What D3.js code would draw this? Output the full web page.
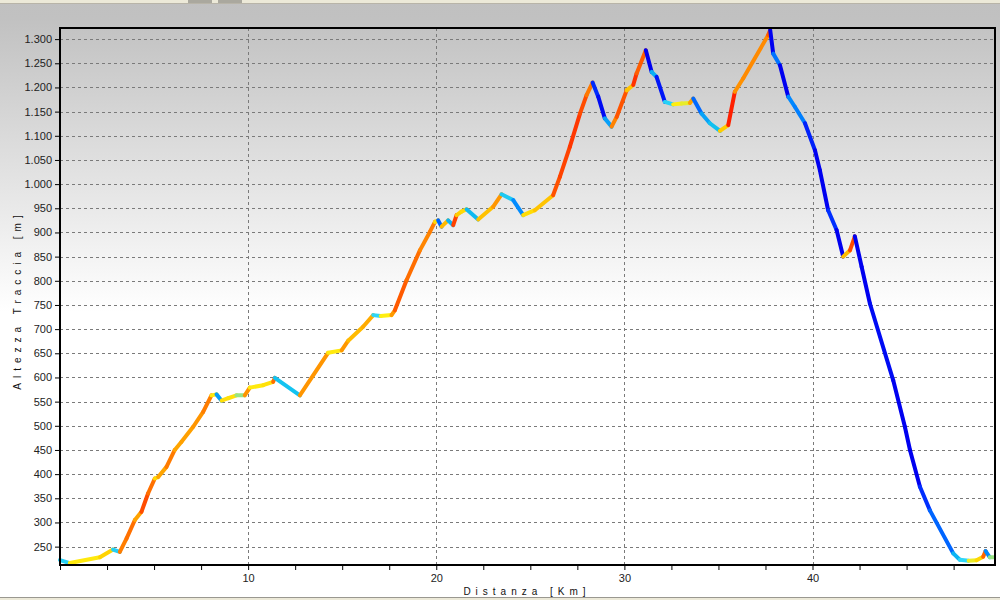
<!DOCTYPE html>
<html>
<head>
<meta charset="UTF-8">
<title>Altezza Traccia</title>
<style>
  html, body { margin: 0; padding: 0; background: #fff; }
  svg { display: block; }
  .tick text { font-family: "Liberation Sans", Arial, sans-serif; font-size: 11px; fill: #222; }
  .tick line { stroke: #000; }
  .axis-label { font-family: "Liberation Sans", Arial, sans-serif; font-size: 10px; fill: #111; letter-spacing: 5px; }
</style>
</head>
<body>
<svg id="chart"></svg>
<script src="https://d3js.org/d3.v7.min.js"></script>
<script>
// distanza (km) e altezza (m)
var distanza = [0.0, 0.52, 2.12, 2.82, 3.18, 3.54, 3.98, 4.33, 4.68, 5.04, 5.22, 5.66, 6.10, 6.46, 7.08, 7.61,
  8.05, 8.32, 8.59, 8.94, 9.38, 9.82, 10.09, 10.80, 11.33, 11.42, 12.75, 14.25, 14.97, 15.32, 16.11, 16.65,
  17.05, 17.62, 17.80, 18.42, 19.13, 19.66, 19.93, 20.10, 20.28, 20.63, 20.90, 21.08, 21.34, 21.61, 22.23, 23.02,
  23.47, 24.09, 24.62, 25.24, 26.21, 26.57, 27.10, 27.64, 27.99, 28.31, 28.61, 28.96, 29.32, 29.59, 30.12,
  30.47, 30.65, 31.14, 31.45, 31.71, 32.15, 32.59, 33.05, 33.48, 33.66, 34.10, 34.54, 35.08, 35.52, 35.87,
  36.32, 37.64, 37.75, 37.91, 38.27, 38.71, 39.06, 39.60, 40.13, 40.39, 40.83, 41.28, 41.63, 41.99, 42.25,
  42.61, 43.05, 44.29, 44.91, 45.18, 45.71, 46.24, 47.48, 47.83, 48.30, 48.72, 49.07, 49.20, 49.42, 49.62];
var altezza = [222, 216, 228, 244, 239, 267, 305, 322, 360, 391, 394, 415, 450, 467, 498, 529,
  563, 565, 552, 557, 563, 563, 579, 584, 591, 599, 563, 651, 656, 676, 705, 729,
  727, 729, 739, 801, 863, 901, 922, 925, 912, 925, 915, 936, 943, 948, 927, 953,
  979, 967, 936, 946, 977, 1015, 1077, 1146, 1184, 1210, 1181, 1136, 1119, 1139, 1194,
  1205, 1229, 1277, 1232, 1222, 1170, 1165, 1167, 1168, 1177, 1146, 1126, 1110, 1122, 1191,
  1219, 1308, 1319, 1270, 1246, 1181, 1160, 1126, 1070, 1029, 946, 905, 850, 863, 892,
  829, 753, 594, 498, 450, 374, 325, 236, 223, 221, 222, 229, 241, 228, 228];

// etichette degli assi
var yTicks = [250, 300, 350, 400, 450, 500, 550, 600, 650, 700, 750, 800, 850, 900, 950,
  1000, 1050, 1100, 1150, 1200, 1250, 1300];
var xLabels = [10, 20, 30, 40];
var xMinor = [0, 2.5, 5, 7.5, 10, 12.5, 15, 17.5, 20, 22.5, 25, 27.5, 30, 32.5, 35, 37.5, 40, 42.5, 45, 47.5];

var W = 1000, H = 600;
var svg = d3.select("#chart").attr("width", W).attr("height", H);

// sfondo sfumato grigio -> bianco
var defs = svg.append("defs");
var grad = defs.append("linearGradient").attr("id", "bg")
  .attr("x1", 0).attr("y1", 0).attr("x2", 0).attr("y2", 1);
grad.append("stop").attr("offset", "0%").attr("stop-color", "#c0c0c0");
grad.append("stop").attr("offset", "3%").attr("stop-color", "#c1c1c1");
grad.append("stop").attr("offset", "52%").attr("stop-color", "#ffffff");
grad.append("stop").attr("offset", "100%").attr("stop-color", "#ffffff");
svg.append("rect").attr("width", W).attr("height", H).attr("fill", "url(#bg)");

// barra superiore e inferiore della finestra
svg.append("rect").attr("x", 0).attr("y", 0).attr("width", W).attr("height", 3).attr("fill", "#ece9d8");
svg.append("rect").attr("x", 0).attr("y", 3).attr("width", W).attr("height", 1).attr("fill", "#b8b4a8");
svg.append("rect").attr("x", 188).attr("y", 0).attr("width", 24).attr("height", 3).attr("fill", "#aaa89e");
svg.append("rect").attr("x", 218).attr("y", 0).attr("width", 24).attr("height", 3).attr("fill", "#aaa89e");
svg.append("rect").attr("x", 0).attr("y", 597).attr("width", W).attr("height", 1).attr("fill", "#9a9890");
svg.append("rect").attr("x", 0).attr("y", 598).attr("width", W).attr("height", 2).attr("fill", "#ece9d8");

var pl = 60, pr = 995, pt = 28, pb = 565;

var x = d3.scaleLinear().domain([0, 49.7]).range([pl, pr]);
var y = d3.scaleLinear().domain([212, 1323]).range([pb, pt]);

var it = d3.formatLocale({decimal: ",", thousands: ".", grouping: [3], currency: ["", " €"]});
var fmt = it.format(",");

// griglia tratteggiata
svg.append("g").selectAll("line").data(yTicks).enter().append("line")
  .attr("x1", pl).attr("x2", pr)
  .attr("y1", function(d) { return Math.round(y(d)) + 0.5; })
  .attr("y2", function(d) { return Math.round(y(d)) + 0.5; })
  .attr("stroke", "#7a7a7a").attr("stroke-dasharray", "3,3");
svg.append("g").selectAll("line").data(xLabels).enter().append("line")
  .attr("y1", pt).attr("y2", pb)
  .attr("x1", function(d) { return Math.round(x(d)) + 0.5; })
  .attr("x2", function(d) { return Math.round(x(d)) + 0.5; })
  .attr("stroke", "#7a7a7a").attr("stroke-dasharray", "3,3");

// colore in base alla pendenza (%)
var col = d3.scaleLinear()
  .domain([-14, -9, -6, -3, -0.3, 0.3, 2.5, 5, 8, 11, 15])
  .range(["#0000f0", "#0030ff", "#0088ff", "#10c0f0", "#30d8f8", "#ffef10", "#ffd000", "#ffa000", "#ff7a00", "#ff4a00", "#ff2000"])
  .clamp(true);

var segs = d3.range(distanza.length - 1).map(function(i) {
  var g = (altezza[i + 1] - altezza[i]) / ((distanza[i + 1] - distanza[i]) * 1000) * 100;
  return {a: i, b: i + 1, g: g};
});

svg.append("g").selectAll("line").data(segs).enter().append("line")
  .attr("x1", function(d) { return x(distanza[d.a]); })
  .attr("y1", function(d) { return y(altezza[d.a]); })
  .attr("x2", function(d) { return x(distanza[d.b]); })
  .attr("y2", function(d) { return y(altezza[d.b]); })
  .attr("stroke", function(d) { return col(d.g); })
  .attr("stroke-width", 4)
  .attr("stroke-linecap", "round");

// assi
var yAxis = svg.append("g").attr("transform", "translate(" + (pl - 1) + ",0)")
  .call(d3.axisLeft(y).tickValues(yTicks).tickSize(4).tickPadding(3).tickFormat(fmt));
yAxis.select(".domain").remove();

var xAxis = svg.append("g").attr("transform", "translate(0," + (pb + 1) + ")")
  .call(d3.axisBottom(x).tickValues(xMinor).tickSize(4).tickPadding(4)
    .tickFormat(function(d) { return xLabels.indexOf(d) >= 0 ? d : ""; }));
xAxis.select(".domain").remove();

// cornice dell'area del grafico
svg.append("path")
  .attr("d", "M" + pl + "," + pb + "V" + pt + "H" + pr + "V" + pb + "Z")
  .attr("fill", "none").attr("stroke", "#000").attr("stroke-width", 2);

// titoli assi
svg.append("text").attr("class", "axis-label")
  .attr("x", 527).attr("y", 595)
  .style("text-anchor", "middle")
  .text("Distanza [Km]");

svg.append("text").attr("class", "axis-label")
  .attr("transform", "translate(21,300) rotate(-90)")
  .style("text-anchor", "middle")
  .text("Altezza Traccia [m]");
</script>
</body>
</html>
